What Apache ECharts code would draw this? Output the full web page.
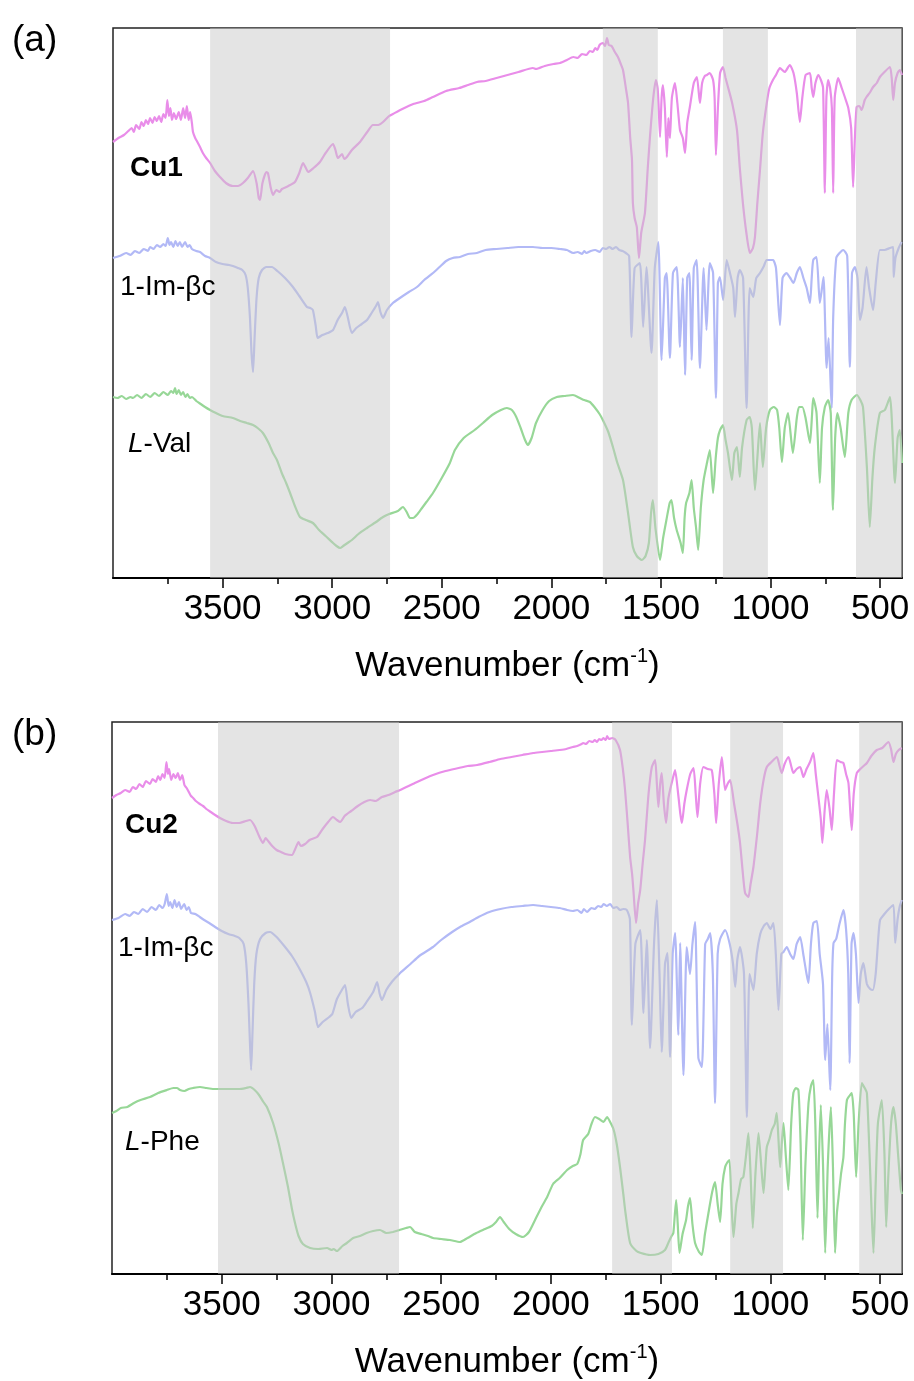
<!DOCTYPE html>
<html>
<head>
<meta charset="utf-8">
<title>FT-IR spectra</title>
<script src="https://cdn.jsdelivr.net/npm/echarts@6/dist/echarts.min.js"></script>
<style>
  html, body { margin: 0; padding: 0; background: #fff; }
  #chart { width: 914px; height: 1381px; }
</style>
</head>
<body>
<div id="chart"></div>
<script>
// Wavenumber tick positions (cm-1)
const MAJOR_TICKS = [3500, 3000, 2500, 2000, 1500, 1000, 500];
const MINOR_TICKS = [3750, 3250, 2750, 2250, 1750, 1250, 750];

// Highlighted bands, [from, to] in cm-1
const SHADE_A = [[3557, 2736], [1765, 1514], [1217, 1012], [610, 400]];
const SHADE_B = [[3517, 2692], [1721, 1448], [1183, 942], [595, 400]];

// Spectra: [wavenumber, transmittance (a.u., stacked offsets)]
const CU1 = [[4000,436],[3975,440],[3950,443],[3930,447],[3915,450],[3905,446],[3895,453],[3880,449],[3870,456],[3860,452],[3850,458],[3840,454],[3831,460],[3820,455],[3810,461],[3800,457],[3790,462],[3780,456],[3770,464],[3760,460],[3752,478],[3745,462],[3738,470],[3731,458],[3722,465],[3712,459],[3700,466],[3690,458],[3680,470],[3671,460],[3663,472],[3655,458],[3648,466],[3640,455],[3635,446],[3625,440],[3615,436],[3603,431],[3590,425],[3575,420],[3557,415],[3535,407],[3512,401],[3485,395],[3453,392],[3430,392],[3407,395],[3385,400],[3361,407],[3345,395],[3335,380],[3329,378],[3318,395],[3300,406],[3293,405],[3280,390],[3270,383],[3255,388],[3240,386],[3229,389],[3200,392],[3170,396],[3150,405],[3133,415],[3120,410],[3110,406],[3085,410],[3056,416],[3030,425],[2996,434],[2985,428],[2974,420],[2955,424],[2945,419],[2933,421],[2910,428],[2873,436],[2840,446],[2814,453],[2790,453],[2768,456],[2740,462],[2723,464],[2680,469],[2630,474],[2580,477],[2540,481],[2480,487],[2420,490],[2380,493],[2339,496],[2300,497],[2250,500],[2200,503],[2150,506],[2084,510],[2070,509],[2030,512],[1990,514],[1960,515],[1929,518],[1900,521],[1880,520],[1860,524],[1840,523],[1824,527],[1810,526],[1800,530],[1790,528],[1780,533],[1765,535],[1755,532],[1746,540],[1738,533],[1725,532],[1710,526],[1696,521],[1685,515],[1673,508],[1660,490],[1650,475],[1640,440],[1632,418],[1628,375],[1620,360],[1610,351],[1600,320],[1590,345],[1573,365],[1560,410],[1550,441],[1535,480],[1523,498],[1515,490],[1510,470],[1504,441],[1497,480],[1491,493],[1482,470],[1473,421],[1466,460],[1459,440],[1450,480],[1436,495],[1425,475],[1413,448],[1400,440],[1390,425],[1380,455],[1368,471],[1350,495],[1336,501],[1322,475],[1312,495],[1300,502],[1290,503],[1277,505],[1262,498],[1255,480],[1249,423],[1240,470],[1230,505],[1217,511],[1205,500],[1194,491],[1175,475],[1153,448],[1140,410],[1126,375],[1110,345],[1094,325],[1080,330],[1071,341],[1060,375],[1048,408],[1035,445],[1017,475],[1005,490],[989,498],[975,503],[957,510],[935,506],[912,513],[895,505],[880,485],[866,456],[855,480],[840,503],[820,505],[812,490],[805,481],[795,495],[782,503],[770,498],[760,490],[752,385],[745,480],[737,498],[728,490],[720,470],[714,385],[707,480],[691,500],[675,490],[661,481],[645,470],[632,450],[623,391],[615,440],[607,471],[595,472],[584,468],[570,478],[562,481],[545,486],[532,491],[515,495],[501,501],[480,506],[455,511],[447,500],[440,478],[432,495],[420,505],[410,508],[400,503]];

const IM_A = [[4000,320],[3970,322],[3940,325],[3920,323],[3900,327],[3880,325],[3860,329],[3840,327],[3831,331],[3815,329],[3800,333],[3785,331],[3770,334],[3760,332],[3750,340],[3742,333],[3735,336],[3725,331],[3715,337],[3705,332],[3695,336],[3685,331],[3671,336],[3660,331],[3650,333],[3640,329],[3620,327],[3603,326],[3580,322],[3557,320],[3530,316],[3500,314],[3470,313],[3453,312],[3430,310],[3410,308],[3395,303],[3385,290],[3375,260],[3368,225],[3361,206],[3354,240],[3345,280],[3335,300],[3320,308],[3300,311],[3275,311],[3250,307],[3215,300],[3179,291],[3150,282],[3115,271],[3100,270],[3088,268],[3075,252],[3066,240],[3045,243],[3020,245],[2996,248],[2975,258],[2955,265],[2942,271],[2930,262],[2910,245],[2890,250],[2865,254],[2841,258],[2820,265],[2800,272],[2791,276],[2780,266],[2768,260],[2750,268],[2723,275],[2691,280],[2650,286],[2613,291],[2580,298],[2540,305],[2510,311],[2480,317],[2450,320],[2417,321],[2380,324],[2340,325],[2300,328],[2250,329],[2200,330],[2150,331],[2084,331],[2040,330],[2000,330],[1960,329],[1929,328],[1900,325],[1880,326],[1860,324],[1850,327],[1840,325],[1820,327],[1800,328],[1780,326],[1765,330],[1750,329],[1735,331],[1720,329],[1705,331],[1690,328],[1675,327],[1660,325],[1645,322],[1634,241],[1620,310],[1596,315],[1581,251],[1566,311],[1543,225],[1528,310],[1512,336],[1497,218],[1482,300],[1474,305],[1459,220],[1445,305],[1428,311],[1413,231],[1400,300],[1390,203],[1380,300],[1370,305],[1360,218],[1350,310],[1337,318],[1322,210],[1305,310],[1292,248],[1277,315],[1262,305],[1249,180],[1240,295],[1231,301],[1216,278],[1200,318],[1185,305],[1170,290],[1162,261],[1150,300],[1140,308],[1125,300],[1109,170],[1095,290],[1079,281],[1065,300],[1048,305],[1030,312],[1018,318],[1000,318],[988,318],[975,310],[957,253],[945,300],[927,305],[910,300],[895,295],[880,305],[866,311],[850,300],[835,290],[820,275],[812,300],[805,318],[790,321],[775,275],[765,290],[758,301],[744,210],[735,240],[721,170],[714,260],[700,320],[685,325],[668,328],[650,322],[638,211],[628,305],[615,311],[603,300],[592,258],[580,270],[562,311],[550,290],[532,268],[520,295],[501,328],[480,328],[455,330],[440,331],[438,301],[430,320],[415,330],[402,336]];

const LVAL = [[4000,181],[3980,180],[3960,182],[3940,179],[3920,181],[3909,180],[3890,183],[3870,180],[3850,184],[3830,181],[3810,185],[3790,182],[3770,186],[3750,183],[3735,187],[3725,185],[3717,190],[3710,184],[3700,188],[3690,183],[3680,186],[3670,181],[3660,184],[3650,180],[3640,181],[3620,177],[3600,174],[3580,171],[3557,168],[3530,165],[3500,162],[3453,160],[3420,157],[3390,155],[3361,153],[3340,150],[3316,145],[3290,135],[3270,125],[3252,118],[3230,105],[3210,95],[3192,85],[3170,72],[3147,61],[3120,58],[3088,55],[3060,48],[3030,42],[2996,35],[2980,32],[2964,30],[2950,32],[2930,35],[2910,38],[2880,44],[2841,50],[2800,56],[2768,61],[2740,64],[2700,67],[2677,71],[2660,66],[2645,60],[2631,60],[2610,64],[2590,70],[2570,76],[2540,85],[2500,100],[2463,115],[2440,128],[2400,140],[2350,148],[2312,155],[2270,163],[2230,168],[2203,170],[2180,168],[2160,161],[2140,150],[2120,138],[2107,133],[2090,140],[2070,155],[2040,168],[2010,177],[1975,181],[1940,182],[1901,183],[1870,180],[1850,178],[1824,176],[1800,170],[1780,164],[1765,158],[1740,146],[1719,131],[1700,116],[1673,98],[1650,65],[1628,31],[1610,22],[1587,18],[1570,22],[1555,35],[1545,65],[1537,78],[1525,50],[1504,18],[1490,40],[1475,58],[1460,75],[1452,78],[1440,60],[1428,48],[1410,35],[1400,25],[1392,60],[1385,75],[1370,85],[1360,98],[1350,70],[1340,51],[1330,28],[1318,70],[1305,98],[1290,115],[1277,128],[1262,85],[1250,120],[1240,140],[1230,148],[1217,153],[1205,138],[1194,125],[1176,98],[1165,125],[1153,131],[1140,101],[1130,130],[1109,158],[1095,161],[1085,150],[1071,88],[1060,120],[1048,155],[1035,111],[1020,150],[1003,168],[985,171],[970,168],[960,150],[948,116],[935,150],[920,165],[898,125],[880,160],[870,171],[855,171],[840,160],[820,135],[810,165],[805,180],[790,165],[775,95],[765,150],[752,171],[737,178],[725,165],[715,68],[705,140],[695,165],[680,150],[661,121],[645,165],[630,178],[606,183],[590,178],[578,171],[560,110],[547,51],[535,100],[524,131],[501,165],[478,168],[455,181],[432,95],[420,140],[410,148],[400,115]];

const CU2 = [[4000,476],[3980,479],[3960,481],[3940,484],[3920,482],[3905,487],[3890,485],[3875,490],[3860,487],[3845,493],[3827,490],[3815,495],[3800,492],[3790,498],[3780,494],[3770,500],[3760,496],[3752,512],[3745,500],[3740,505],[3730,494],[3720,500],[3710,496],[3700,501],[3690,494],[3680,499],[3670,489],[3660,486],[3650,482],[3640,478],[3630,476],[3618,473],[3600,470],[3585,468],[3570,465],[3550,462],[3530,459],[3508,456],[3480,453],[3450,451],[3420,451],[3390,453],[3371,454],[3350,448],[3330,438],[3312,431],[3300,436],[3285,432],[3270,428],[3250,424],[3230,422],[3210,420],[3180,419],[3165,425],[3150,432],[3140,428],[3120,430],[3100,434],[3066,437],[3040,445],[3015,452],[2993,457],[2975,454],[2960,452],[2940,458],[2910,463],[2880,468],[2850,472],[2824,474],[2800,473],[2770,477],[2740,479],[2710,482],[2687,484],[2620,491],[2580,495],[2537,499],[2480,503],[2420,506],[2380,508],[2336,509],[2280,512],[2230,515],[2180,517],[2130,519],[2081,521],[2040,522],[2000,523],[1960,524],[1930,525],[1900,527],[1880,528],[1860,530],[1853,531],[1840,530],[1825,533],[1810,532],[1800,534],[1790,532],[1780,535],[1770,534],[1760,536],[1750,534],[1744,538],[1735,535],[1720,536],[1705,534],[1685,524],[1672,505],[1662,484],[1650,450],[1639,417],[1630,400],[1624,384],[1612,351],[1603,370],[1593,384],[1582,410],[1571,434],[1555,480],[1540,507],[1525,514],[1517,490],[1510,467],[1502,490],[1495,501],[1485,470],[1475,451],[1465,475],[1457,484],[1445,495],[1434,504],[1420,480],[1410,460],[1403,451],[1392,470],[1381,484],[1365,500],[1350,506],[1340,480],[1332,457],[1320,490],[1305,507],[1285,505],[1267,504],[1255,480],[1247,451],[1235,490],[1221,517],[1206,484],[1195,490],[1183,494],[1165,470],[1150,450],[1138,431],[1125,400],[1115,381],[1100,377],[1090,390],[1077,407],[1060,440],[1046,471],[1030,495],[1016,507],[995,512],[970,517],[958,508],[948,501],[935,510],[917,517],[905,508],[895,501],[880,505],[864,507],[849,497],[835,505],[819,512],[804,521],[793,500],[781,477],[770,455],[763,431],[752,465],[743,484],[730,465],[720,444],[710,480],[697,514],[680,512],[667,511],[655,500],[644,491],[635,460],[629,444],[620,480],[606,501],[590,505],[575,508],[560,511],[540,518],[515,524],[490,526],[462,532],[450,525],[439,512],[428,520],[415,524],[401,526]];

const IM_B = [[4000,354],[3970,356],[3940,360],[3920,358],[3900,362],[3880,360],[3860,365],[3840,362],[3820,367],[3800,364],[3785,369],[3770,366],[3760,370],[3750,380],[3742,368],[3735,372],[3725,366],[3715,374],[3705,367],[3695,372],[3685,365],[3671,370],[3660,364],[3650,367],[3640,361],[3620,360],[3600,357],[3580,354],[3557,351],[3530,347],[3500,343],[3470,340],[3440,338],[3420,336],[3400,330],[3388,310],[3378,270],[3372,235],[3366,204],[3360,240],[3352,290],[3342,320],[3325,335],[3300,341],[3280,342],[3250,337],[3215,328],[3180,318],[3150,307],[3115,292],[3097,281],[3075,262],[3061,247],[3040,252],[3010,257],[2996,260],[2975,275],[2950,285],[2938,289],[2925,270],[2910,256],[2890,262],[2860,266],[2840,272],[2810,282],[2792,292],[2780,280],[2770,274],[2750,284],[2725,292],[2700,298],[2687,301],[2640,310],[2600,318],[2537,327],[2500,334],[2450,342],[2414,347],[2370,352],[2330,357],[2280,362],[2230,365],[2180,367],[2130,368],[2081,369],[2040,368],[2000,367],[1960,366],[1926,364],[1900,363],[1880,364],[1860,361],[1850,365],[1835,362],[1815,366],[1800,365],[1785,368],[1770,367],[1760,370],[1745,368],[1730,370],[1715,366],[1700,367],[1685,364],[1670,365],[1654,364],[1640,355],[1631,249],[1615,330],[1593,344],[1578,261],[1563,334],[1548,226],[1530,330],[1517,374],[1505,300],[1495,222],[1480,310],[1469,321],[1457,217],[1445,320],[1434,341],[1419,239],[1411,331],[1396,199],[1381,327],[1366,300],[1355,330],[1343,352],[1328,216],[1312,207],[1297,330],[1285,335],[1274,341],[1262,300],[1252,171],[1240,320],[1229,335],[1206,344],[1185,330],[1170,310],[1160,287],[1150,315],[1138,327],[1120,300],[1107,157],[1095,300],[1077,284],[1062,320],[1046,340],[1030,348],[1016,351],[1000,345],[986,351],[975,320],[963,264],[950,320],[940,322],[925,327],[910,320],[895,315],[880,330],[864,337],[850,320],[835,300],[826,291],[815,330],[804,351],[788,353],[775,320],[760,290],[750,214],[740,250],[727,184],[718,300],[712,331],[700,335],[685,350],[667,364],[655,345],[645,300],[639,211],[630,330],[621,341],[610,320],[598,271],[588,300],[576,311],[560,290],[545,285],[533,284],[520,300],[510,330],[500,354],[480,360],[460,365],[439,369],[431,331],[420,355],[410,368],[401,374]];

const LPHE = [[4000,161],[3980,163],[3960,166],[3930,167],[3900,171],[3870,174],[3827,177],[3790,181],[3750,184],[3720,186],[3704,186],[3690,184],[3670,183],[3650,185],[3630,186],[3599,187],[3570,186],[3540,185],[3500,185],[3460,185],[3420,185],[3390,186],[3371,187],[3350,184],[3330,179],[3310,172],[3294,167],[3266,151],[3240,130],[3220,110],[3198,87],[3180,65],[3166,51],[3150,38],[3130,30],[3097,26],[3060,25],[3020,26],[3000,24],[2990,25],[2975,23],[2950,28],[2930,31],[2901,36],[2870,38],[2840,41],[2810,43],[2779,44],[2750,41],[2720,42],[2690,44],[2660,46],[2642,47],[2620,42],[2590,40],[2560,38],[2537,36],[2500,35],[2460,34],[2414,32],[2380,36],[2340,41],[2300,45],[2270,48],[2250,52],[2232,57],[2215,52],[2190,45],[2160,40],[2127,37],[2100,42],[2070,55],[2040,68],[2017,77],[1990,90],[1960,96],[1926,104],[1900,108],[1880,110],[1865,120],[1853,134],[1830,140],[1815,150],[1799,157],[1780,155],[1760,152],[1744,157],[1730,152],[1715,145],[1700,130],[1685,107],[1670,80],[1660,61],[1639,31],[1610,23],[1590,21],[1548,19],[1510,20],[1480,24],[1465,31],[1450,38],[1442,41],[1435,60],[1429,74],[1422,50],[1414,21],[1400,40],[1384,54],[1375,68],[1366,76],[1355,50],[1343,31],[1325,22],[1312,19],[1298,40],[1282,61],[1265,82],[1252,92],[1240,70],[1229,52],[1218,90],[1206,107],[1195,112],[1186,114],[1177,70],[1168,37],[1155,70],[1145,81],[1133,95],[1123,97],[1110,120],[1100,141],[1090,100],[1080,46],[1068,100],[1054,141],[1042,110],[1031,81],[1022,110],[1016,127],[1004,135],[993,144],[980,150],[971,161],[963,135],[955,107],[948,130],[940,151],[930,120],[918,84],[905,150],[895,181],[884,186],[872,184],[862,130],[852,34],[840,110],[826,171],[815,188],[804,194],[795,150],[785,56],[778,120],[770,169],[760,110],[750,21],[738,110],[724,167],[715,110],[705,21],[697,60],[689,77],[678,100],[667,117],[660,150],[651,174],[640,178],[629,181],[620,160],[609,97],[598,150],[583,191],[570,186],[560,181],[548,120],[538,60],[530,21],[520,90],[510,150],[492,174],[480,120],[472,47],[462,100],[450,150],[439,167],[428,150],[418,120],[405,84],[400,80]];

const COLORS = { pink: '#e98de9', blue: '#b2b9f6', green: '#97d797' };
const FONT = '"Liberation Sans", Arial, Helvetica, sans-serif';
const SHADE_COLOR = 'rgba(200,200,200,0.49)';

const chart = echarts.init(document.getElementById('chart'), null, { renderer: 'canvas' });

function majorAxis(gridIndex) {
  return {
    gridIndex, type: 'value', min: 400, max: 4000, inverse: true, position: 'bottom',
    axisLine: { show: true, lineStyle: { color: '#000', width: 2 } },
    axisTick: { show: true, customValues: MAJOR_TICKS, length: 10, lineStyle: { color: '#000', width: 1.5 } },
    axisLabel: {
      customValues: MAJOR_TICKS, color: '#000', fontSize: 35, fontFamily: FONT, margin: 14,
      formatter: v => String(v)
    },
    splitLine: { show: false },
    name: '{t|Wavenumber (cm}{s|-1}{t|)}',
    nameLocation: 'middle', nameGap: 68,
    nameTextStyle: {
      color: '#000',
      rich: {
        t: { fontSize: 35, fontFamily: FONT, color: '#000', lineHeight: 40 },
        s: { fontSize: 20, fontFamily: FONT, color: '#000', lineHeight: 40, verticalAlign: 'top', padding: [0, 0, 18, 0] }
      }
    }
  };
}
function minorAxis(gridIndex) {
  return {
    gridIndex, type: 'value', min: 400, max: 4000, inverse: true, position: 'bottom', offset: 0,
    axisLine: { show: false },
    axisTick: { show: true, customValues: MINOR_TICKS, length: 6, lineStyle: { color: '#000', width: 1.5 } },
    axisLabel: { show: false },
    splitLine: { show: false }
  };
}
function spectrum(data, color, axisIdx) {
  return {
    type: 'line', data, xAxisIndex: axisIdx, yAxisIndex: axisIdx / 2,
    showSymbol: false, symbol: 'none', smooth: 0.2, silent: true, z: 2,
    lineStyle: { color, width: 2.2 }
  };
}
// Grey bands drawn above the spectra, so the traces show through them faded
function shade(bands, axisIdx) {
  return {
    type: 'line', data: [], xAxisIndex: axisIdx, yAxisIndex: axisIdx / 2, z: 10, silent: true,
    markArea: {
      silent: true, z: 10,
      itemStyle: { color: SHADE_COLOR },
      data: bands.map(b => [{ xAxis: b[0] }, { xAxis: b[1] }])
    }
  };
}
function label(text, x, y, opts) {
  return {
    type: 'text', x, y, silent: true, z: 20,
    style: Object.assign({
      text, fill: '#000', fontSize: 28, fontFamily: FONT,
      align: 'left', verticalAlign: 'middle'
    }, opts || {})
  };
}

chart.setOption({
  animation: false,
  backgroundColor: '#fff',
  grid: [
    { left: 113, top: 28, width: 789, height: 550, show: true, borderColor: '#222', borderWidth: 1.5, backgroundColor: 'transparent' },
    { left: 112, top: 722, width: 790, height: 552, show: true, borderColor: '#222', borderWidth: 1.5, backgroundColor: 'transparent' }
  ],
  xAxis: [majorAxis(0), minorAxis(0), majorAxis(1), minorAxis(1)],
  yAxis: [
    { gridIndex: 0, type: 'value', min: 0, max: 550, show: false },
    { gridIndex: 1, type: 'value', min: 0, max: 552, show: false }
  ],
  series: [
    spectrum(CU1, COLORS.pink, 0),
    spectrum(IM_A, COLORS.blue, 0),
    spectrum(LVAL, COLORS.green, 0),
    shade(SHADE_A, 0),
    spectrum(CU2, COLORS.pink, 2),
    spectrum(IM_B, COLORS.blue, 2),
    spectrum(LPHE, COLORS.green, 2),
    shade(SHADE_B, 2)
  ],
  graphic: [
    label('(a)', 12, 41, { fontSize: 37 }),
    label('(b)', 12, 735, { fontSize: 37 }),
    label('Cu1', 130, 168, { fontWeight: 'bold' }),
    label('1-Im-βc', 120, 287),
    label('{i|L}-Val', 128, 444, { rich: { i: { fontStyle: 'italic', fontSize: 28, fontFamily: FONT } } }),
    label('Cu2', 125, 825, { fontWeight: 'bold' }),
    label('1-Im-βc', 118, 948),
    label('{i|L}-Phe', 125, 1142, { rich: { i: { fontStyle: 'italic', fontSize: 28, fontFamily: FONT } } })
  ]
});
</script>
</body>
</html>
